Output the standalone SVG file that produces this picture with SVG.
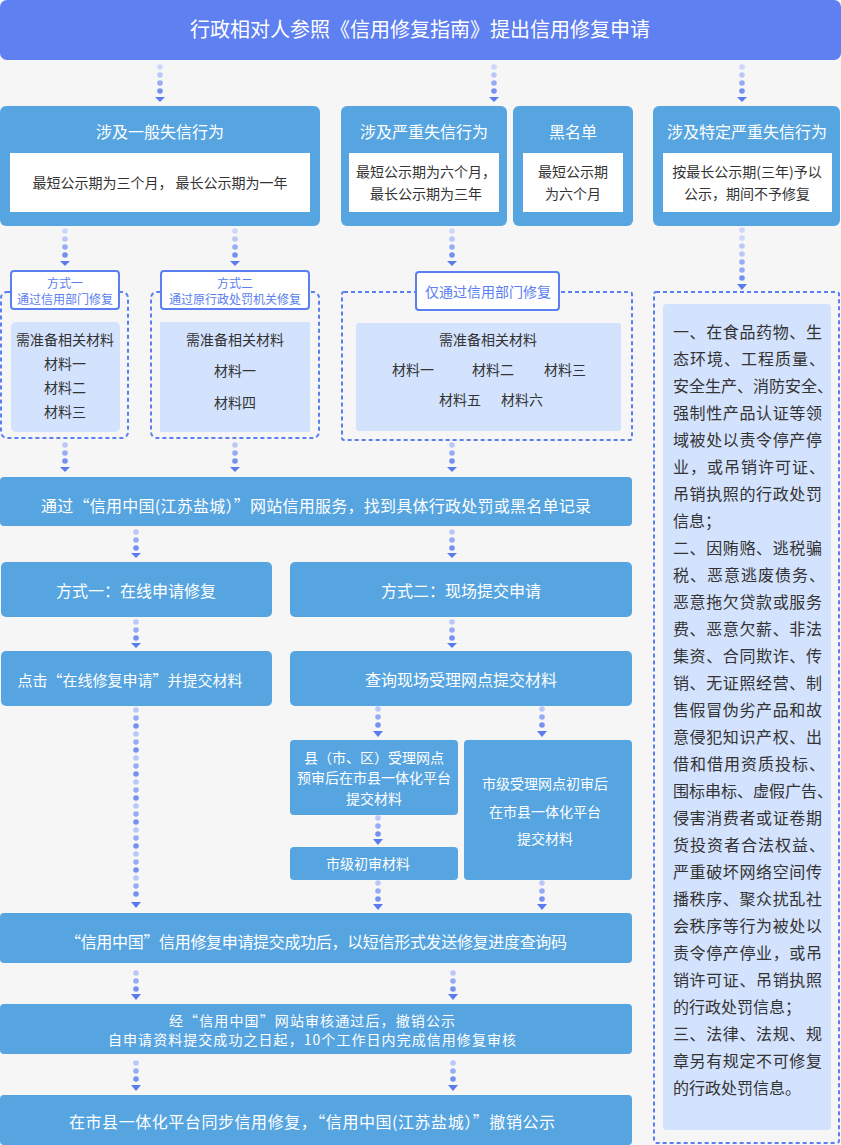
<svg xmlns="http://www.w3.org/2000/svg" width="841" height="1145" viewBox="0 0 841 1145">
<defs>
<style>
.bg{fill:#f6f6f7}
.hdr{fill:#5f80f0}
.box{fill:#56a5e1}
.wbox{fill:#ffffff}
.lbox{fill:#d3e2fd}
.dash{fill:none;stroke:#5b7ef0;stroke-width:2;stroke-dasharray:4 3}
.lab{fill:#ffffff;stroke:#5b7ef0;stroke-width:2}
text{font-family:"Noto Sans CJK SC","Noto Sans",sans-serif;dominant-baseline:central}
.c{text-anchor:middle}
.tw{fill:#ffffff}
.td{fill:#333333}
.tb{fill:#5b7ef0}
.s12{font-size:12px}
.s14{font-size:14px}
.s15{font-size:15px}
.s16{font-size:16px}
.s20{font-size:20px}
.d0{fill:#ccd7fb}
.d1{fill:#b9c8f8}
.d2{fill:#97acf4}
.d3{fill:#7590ef}
.ar{fill:#5b7cee}
</style>
</defs>
<rect class="bg" x="0" y="0" width="841" height="1145"/>

<g id="connectors">
<g transform="translate(160,0)"><circle class="d0" cx="0" cy="67" r="2.8"/><circle class="d1" cx="0" cy="75" r="2.8"/><circle class="d2" cx="0" cy="83" r="2.8"/><circle class="d3" cx="0" cy="91" r="2.8"/><path class="ar" d="M-5,97 L5,97 L0,102 Z"/></g>
<g transform="translate(494,0)"><circle class="d0" cx="0" cy="67" r="2.8"/><circle class="d1" cx="0" cy="75" r="2.8"/><circle class="d2" cx="0" cy="83" r="2.8"/><circle class="d3" cx="0" cy="91" r="2.8"/><path class="ar" d="M-5,97 L5,97 L0,102 Z"/></g>
<g transform="translate(742,0)"><circle class="d0" cx="0" cy="67" r="2.8"/><circle class="d1" cx="0" cy="75" r="2.8"/><circle class="d2" cx="0" cy="83" r="2.8"/><circle class="d3" cx="0" cy="91" r="2.8"/><path class="ar" d="M-5,97 L5,97 L0,102 Z"/></g>
<g transform="translate(65,0)"><circle class="d0" cx="0" cy="231" r="2.8"/><circle class="d1" cx="0" cy="239" r="2.8"/><circle class="d2" cx="0" cy="247" r="2.8"/><circle class="d3" cx="0" cy="255" r="2.8"/><path class="ar" d="M-5,261 L5,261 L0,266 Z"/></g>
<g transform="translate(235,0)"><circle class="d0" cx="0" cy="231" r="2.8"/><circle class="d1" cx="0" cy="239" r="2.8"/><circle class="d2" cx="0" cy="247" r="2.8"/><circle class="d3" cx="0" cy="255" r="2.8"/><path class="ar" d="M-5,261 L5,261 L0,266 Z"/></g>
<g transform="translate(452,0)"><circle class="d0" cx="0" cy="231" r="2.8"/><circle class="d1" cx="0" cy="239" r="2.8"/><circle class="d2" cx="0" cy="247" r="2.8"/><circle class="d3" cx="0" cy="255" r="2.8"/><path class="ar" d="M-5,261 L5,261 L0,266 Z"/></g>
<g transform="translate(742,0)"><circle class="d0" cx="0" cy="230" r="2.8"/><circle class="d0" cx="0" cy="238" r="2.8"/><circle class="d1" cx="0" cy="246" r="2.8"/><circle class="d1" cx="0" cy="254" r="2.8"/><circle class="d2" cx="0" cy="262" r="2.8"/><circle class="d2" cx="0" cy="270" r="2.8"/><circle class="d3" cx="0" cy="278" r="2.8"/><path class="ar" d="M-5,284 L5,284 L0,290 Z"/></g>
<g transform="translate(65,0)"><circle class="d1" cx="0" cy="445" r="2.8"/><circle class="d2" cx="0" cy="453" r="2.8"/><circle class="d3" cx="0" cy="461" r="2.8"/><path class="ar" d="M-5,467 L5,467 L0,472 Z"/></g>
<g transform="translate(235,0)"><circle class="d1" cx="0" cy="445" r="2.8"/><circle class="d2" cx="0" cy="453" r="2.8"/><circle class="d3" cx="0" cy="461" r="2.8"/><path class="ar" d="M-5,467 L5,467 L0,472 Z"/></g>
<g transform="translate(452,0)"><circle class="d1" cx="0" cy="445" r="2.8"/><circle class="d2" cx="0" cy="453" r="2.8"/><circle class="d3" cx="0" cy="461" r="2.8"/><path class="ar" d="M-5,467 L5,467 L0,472 Z"/></g>
<g transform="translate(136,0)"><circle class="d1" cx="0" cy="532" r="2.8"/><circle class="d2" cx="0" cy="540" r="2.8"/><circle class="d3" cx="0" cy="548" r="2.8"/><path class="ar" d="M-5,553 L5,553 L0,558 Z"/></g>
<g transform="translate(452,0)"><circle class="d1" cx="0" cy="532" r="2.8"/><circle class="d2" cx="0" cy="540" r="2.8"/><circle class="d3" cx="0" cy="548" r="2.8"/><path class="ar" d="M-5,553 L5,553 L0,558 Z"/></g>
<g transform="translate(136,0)"><circle class="d1" cx="0" cy="622" r="2.8"/><circle class="d2" cx="0" cy="630" r="2.8"/><circle class="d3" cx="0" cy="638" r="2.8"/><path class="ar" d="M-5,643 L5,643 L0,648 Z"/></g>
<g transform="translate(452,0)"><circle class="d1" cx="0" cy="622" r="2.8"/><circle class="d2" cx="0" cy="630" r="2.8"/><circle class="d3" cx="0" cy="638" r="2.8"/><path class="ar" d="M-5,643 L5,643 L0,648 Z"/></g>
<g transform="translate(136,0)">
<circle class="d1" cx="0" cy="710" r="2.8"/><circle class="d2" cx="0" cy="718" r="2.8"/><circle class="d3" cx="0" cy="726" r="2.8"/>
<circle class="d1" cx="0" cy="734" r="2.8"/><circle class="d2" cx="0" cy="742" r="2.8"/><circle class="d3" cx="0" cy="750" r="2.8"/>
<circle class="d1" cx="0" cy="758" r="2.8"/><circle class="d2" cx="0" cy="766" r="2.8"/><circle class="d3" cx="0" cy="774" r="2.8"/>
<circle class="d1" cx="0" cy="782" r="2.8"/><circle class="d2" cx="0" cy="790" r="2.8"/><circle class="d3" cx="0" cy="798" r="2.8"/>
<circle class="d1" cx="0" cy="806" r="2.8"/><circle class="d2" cx="0" cy="814" r="2.8"/><circle class="d3" cx="0" cy="822" r="2.8"/>
<circle class="d1" cx="0" cy="830" r="2.8"/><circle class="d2" cx="0" cy="838" r="2.8"/><circle class="d3" cx="0" cy="846" r="2.8"/>
<circle class="d1" cx="0" cy="854" r="2.8"/><circle class="d2" cx="0" cy="862" r="2.8"/><circle class="d3" cx="0" cy="870" r="2.8"/>
<circle class="d1" cx="0" cy="878" r="2.8"/><circle class="d2" cx="0" cy="886" r="2.8"/><circle class="d3" cx="0" cy="894" r="2.8"/>
<path class="ar" d="M-5,902 L5,902 L0,908 Z"/>
</g>
<g transform="translate(378,0)"><circle class="d1" cx="0" cy="709" r="2.8"/><circle class="d2" cx="0" cy="717" r="2.8"/><circle class="d3" cx="0" cy="725" r="2.8"/><path class="ar" d="M-5,731 L5,731 L0,737 Z"/></g>
<g transform="translate(542,0)"><circle class="d1" cx="0" cy="709" r="2.8"/><circle class="d2" cx="0" cy="717" r="2.8"/><circle class="d3" cx="0" cy="725" r="2.8"/><path class="ar" d="M-5,731 L5,731 L0,737 Z"/></g>
<g transform="translate(378,0)"><circle class="d1" cx="0" cy="818" r="2.8"/><circle class="d2" cx="0" cy="826" r="2.8"/><circle class="d3" cx="0" cy="834" r="2.8"/><path class="ar" d="M-5,839 L5,839 L0,845 Z"/></g>
<g transform="translate(378,0)"><circle class="d1" cx="0" cy="883" r="2.8"/><circle class="d2" cx="0" cy="891" r="2.8"/><circle class="d3" cx="0" cy="899" r="2.8"/><path class="ar" d="M-5,904 L5,904 L0,910 Z"/></g>
<g transform="translate(542,0)"><circle class="d1" cx="0" cy="883" r="2.8"/><circle class="d2" cx="0" cy="891" r="2.8"/><circle class="d3" cx="0" cy="899" r="2.8"/><path class="ar" d="M-5,904 L5,904 L0,910 Z"/></g>
<g transform="translate(136,0)"><circle class="d1" cx="0" cy="973" r="2.8"/><circle class="d2" cx="0" cy="981" r="2.8"/><circle class="d3" cx="0" cy="989" r="2.8"/><path class="ar" d="M-5,994 L5,994 L0,1000 Z"/></g>
<g transform="translate(453,0)"><circle class="d1" cx="0" cy="973" r="2.8"/><circle class="d2" cx="0" cy="981" r="2.8"/><circle class="d3" cx="0" cy="989" r="2.8"/><path class="ar" d="M-5,994 L5,994 L0,1000 Z"/></g>
<g transform="translate(136,0)"><circle class="d1" cx="0" cy="1063" r="2.8"/><circle class="d2" cx="0" cy="1071" r="2.8"/><circle class="d3" cx="0" cy="1079" r="2.8"/><path class="ar" d="M-5,1085 L5,1085 L0,1091 Z"/></g>
<g transform="translate(453,0)"><circle class="d1" cx="0" cy="1063" r="2.8"/><circle class="d2" cx="0" cy="1071" r="2.8"/><circle class="d3" cx="0" cy="1079" r="2.8"/><path class="ar" d="M-5,1085 L5,1085 L0,1091 Z"/></g>
</g>

<g id="header">
<rect class="hdr" x="0" y="0" width="841" height="60" rx="7"/>
<text class="c tw s20" x="420" y="28">行政相对人参照《信用修复指南》提出信用修复申请</text>
</g>

<g id="general">
<rect class="box" x="0" y="106" width="320" height="120" rx="6"/>
<text class="c tw s16" x="160" y="131">涉及一般失信行为</text>
<rect class="wbox" x="10" y="153" width="300" height="59"/>
<text class="c td s14" x="160" y="182">最短公示期为三个月， 最长公示期为一年</text>
</g>

<g id="serious">
<rect class="box" x="341" y="106" width="166" height="120" rx="6"/>
<text class="c tw s16" x="424" y="131">涉及严重失信行为</text>
<rect class="wbox" x="349" y="153" width="150" height="59"/>
<text class="c td s14" x="426" y="171">最短公示期为六个月，</text>
<text class="c td s14" x="426" y="193">最长公示期为三年</text>
</g>

<g id="blacklist">
<rect class="box" x="513" y="106" width="120" height="120" rx="6"/>
<text class="c tw s16" x="573" y="131">黑名单</text>
<rect class="wbox" x="523" y="153" width="100" height="59"/>
<text class="c td s14" x="573" y="171">最短公示期</text>
<text class="c td s14" x="573" y="193">为六个月</text>
</g>

<g id="special">
<rect class="box" x="653" y="106" width="187" height="120" rx="6"/>
<text class="c tw s16" x="747" y="131">涉及特定严重失信行为</text>
<rect class="wbox" x="663" y="153" width="169" height="59"/>
<text class="c td s14" x="747" y="171">按最长公示期(三年)予以</text>
<text class="c td s14" x="747" y="193">公示，期间不予修复</text>
</g>

<g id="way1-dept">
<rect class="dash" x="1" y="292" width="127" height="146" rx="6"/>
<rect class="lab" x="11" y="271" width="108" height="38" rx="3"/>
<text class="c tb s12" x="65" y="282">方式一</text>
<text class="c tb s12" x="65" y="298">通过信用部门修复</text>
<rect class="lbox" x="11" y="322" width="109" height="110" rx="5"/>
<text class="c td s14" x="65" y="339">需准备相关材料</text>
<text class="c td s14" x="65" y="363">材料一</text>
<text class="c td s14" x="65" y="387">材料二</text>
<text class="c td s14" x="65" y="411">材料三</text>
</g>

<g id="way2-org">
<rect class="dash" x="151" y="292" width="168" height="146" rx="6"/>
<rect class="lab" x="161" y="271" width="148" height="38" rx="3"/>
<text class="c tb s12" x="235" y="282">方式二</text>
<text class="c tb s12" x="235" y="298">通过原行政处罚机关修复</text>
<rect class="lbox" x="160" y="322" width="150" height="110"/>
<text class="c td s14" x="235" y="339">需准备相关材料</text>
<text class="c td s14" x="235" y="370">材料一</text>
<text class="c td s14" x="235" y="402">材料四</text>
</g>

<g id="dept-only">
<rect class="dash" x="342" y="292" width="290" height="148" rx="2"/>
<rect class="lab" x="416" y="272" width="143" height="38" rx="3"/>
<text class="c tb s14" x="488" y="291">仅通过信用部门修复</text>
<rect class="lbox" x="356" y="323" width="265" height="108" rx="3"/>
<text class="c td s14" x="488" y="339">需准备相关材料</text>
<text class="c td s14" x="413" y="369">材料一</text>
<text class="c td s14" x="493" y="369">材料二</text>
<text class="c td s14" x="565" y="369">材料三</text>
<text class="c td s14" x="460" y="399">材料五</text>
<text class="c td s14" x="522" y="399">材料六</text>
</g>

<g id="no-repair">
<rect class="dash" x="654" y="292" width="185" height="851" rx="2"/>
<rect class="lbox" x="663" y="304" width="168" height="826" rx="4"/>
<g class="td s16">
<text x="673" y="331" textLength="149" lengthAdjust="spacing">一、在食品药物、生</text>
<text x="673" y="358" textLength="152" lengthAdjust="spacing">态环境、工程质量、</text>
<text x="673" y="385">安全生产、消防安全、</text>
<text x="673" y="412" textLength="149" lengthAdjust="spacing">强制性产品认证等领</text>
<text x="673" y="439" textLength="149" lengthAdjust="spacing">域被处以责令停产停</text>
<text x="673" y="466" textLength="152" lengthAdjust="spacing">业，或吊销许可证、</text>
<text x="673" y="493" textLength="149" lengthAdjust="spacing">吊销执照的行政处罚</text>
<text x="673" y="520">信息；</text>
<text x="673" y="547" textLength="149" lengthAdjust="spacing">二、因贿赂、逃税骗</text>
<text x="673" y="574" textLength="152" lengthAdjust="spacing">税、恶意逃废债务、</text>
<text x="673" y="601" textLength="149" lengthAdjust="spacing">恶意拖欠贷款或服务</text>
<text x="673" y="628" textLength="149" lengthAdjust="spacing">费、恶意欠薪、非法</text>
<text x="673" y="655" textLength="149" lengthAdjust="spacing">集资、合同欺诈、传</text>
<text x="673" y="682" textLength="149" lengthAdjust="spacing">销、无证照经营、制</text>
<text x="673" y="709" textLength="149" lengthAdjust="spacing">售假冒伪劣产品和故</text>
<text x="673" y="736" textLength="149" lengthAdjust="spacing">意侵犯知识产权、出</text>
<text x="673" y="763" textLength="152" lengthAdjust="spacing">借和借用资质投标、</text>
<text x="673" y="790">围标串标、虚假广告、</text>
<text x="673" y="817" textLength="149" lengthAdjust="spacing">侵害消费者或证卷期</text>
<text x="673" y="844" textLength="152" lengthAdjust="spacing">货投资者合法权益、</text>
<text x="673" y="871" textLength="149" lengthAdjust="spacing">严重破坏网络空间传</text>
<text x="673" y="898" textLength="149" lengthAdjust="spacing">播秩序、聚众扰乱社</text>
<text x="673" y="925" textLength="149" lengthAdjust="spacing">会秩序等行为被处以</text>
<text x="673" y="952" textLength="149" lengthAdjust="spacing">责令停产停业，或吊</text>
<text x="673" y="979" textLength="149" lengthAdjust="spacing">销许可证、吊销执照</text>
<text x="673" y="1006">的行政处罚信息；</text>
<text x="673" y="1033" textLength="149" lengthAdjust="spacing">三、法律、法规、规</text>
<text x="673" y="1060" textLength="149" lengthAdjust="spacing">章另有规定不可修复</text>
<text x="673" y="1087">的行政处罚信息。</text>
</g>
</g>

<g id="search">
<rect class="box" x="0" y="477" width="632" height="49" rx="4"/>
<text class="c tw s16" x="316" y="505" textLength="550" lengthAdjust="spacing">通过“信用中国(江苏盐城）”网站信用服务，找到具体行政处罚或黑名单记录</text>
</g>

<g id="way-online">
<rect class="box" x="1" y="562" width="271" height="55" rx="5"/>
<text class="c tw s16" x="136" y="590">方式一：在线申请修复</text>
</g>

<g id="way-onsite">
<rect class="box" x="290" y="562" width="342" height="55" rx="5"/>
<text class="c tw s16" x="461" y="590">方式二：现场提交申请</text>
</g>

<g id="online-submit">
<rect class="box" x="1" y="651" width="271" height="55" rx="5"/>
<text class="c tw s15" x="130" y="679">点击“在线修复申请”并提交材料</text>
</g>

<g id="onsite-query">
<rect class="box" x="290" y="651" width="342" height="55" rx="5"/>
<text class="c tw s16" x="461" y="679">查询现场受理网点提交材料</text>
</g>

<g id="county">
<rect class="box" x="290" y="740" width="168" height="75" rx="4"/>
<text class="c tw s14" x="374" y="757">县（市、区）受理网点</text>
<text class="c tw s14" x="374" y="777">预审后在市县一体化平台</text>
<text class="c tw s14" x="374" y="798">提交材料</text>
</g>

<g id="city-review">
<rect class="box" x="290" y="847" width="168" height="33" rx="4"/>
<text class="c tw s14" x="368" y="863">市级初审材料</text>
</g>

<g id="city">
<rect class="box" x="464" y="740" width="168" height="140" rx="4"/>
<text class="c tw s14" x="545" y="783">市级受理网点初审后</text>
<text class="c tw s14" x="545" y="811">在市县一体化平台</text>
<text class="c tw s14" x="545" y="838">提交材料</text>
</g>

<g id="sms">
<rect class="box" x="0" y="913" width="632" height="50" rx="4"/>
<text class="c tw s16" x="316" y="941" textLength="502" lengthAdjust="spacing">“信用中国”信用修复申请提交成功后，以短信形式发送修复进度查询码</text>
</g>

<g id="audit">
<rect class="box" x="0" y="1004" width="632" height="50" rx="4"/>
<text class="c tw s14" x="312" y="1020" textLength="286" lengthAdjust="spacing">经“信用中国”网站审核通过后，撤销公示</text>
<text class="c tw s14" x="312" y="1039" textLength="408" lengthAdjust="spacing">自申请资料提交成功之日起，10个工作日内完成信用修复审核</text>
</g>

<g id="sync">
<rect class="box" x="0" y="1095" width="632" height="50" rx="4"/>
<text class="c tw s16" x="312" y="1121" textLength="486" lengthAdjust="spacing">在市县一体化平台同步信用修复，“信用中国(江苏盐城）”撤销公示</text>
</g>
</svg>
